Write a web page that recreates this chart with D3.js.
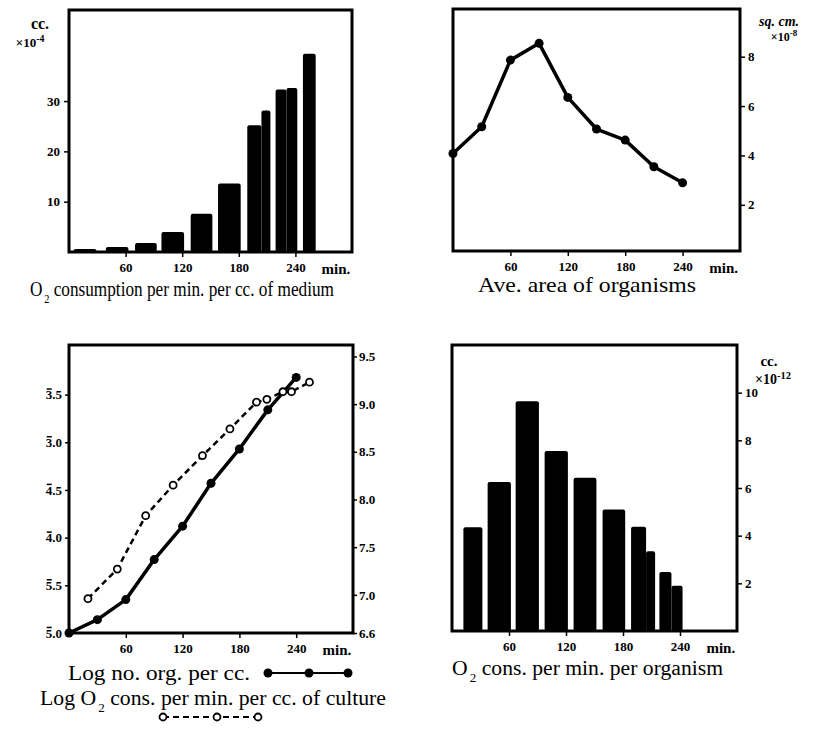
<!DOCTYPE html>
<html>
<head>
<meta charset="utf-8">
<script src="https://cdn.jsdelivr.net/npm/d3@7"></script>
<style>
  body { margin: 0; background: #fff; }
  svg { display: block; }
  text { font-family: "Liberation Serif", "DejaVu Serif", serif; fill: #000; }
  .tick text { font-size: 13px; font-weight: bold; }
  .tick line { stroke: #000; stroke-width: 1.5; }
</style>
</head>
<body>
<svg id="canvas" width="817" height="732"></svg>
<script>
// O2 consumption per min per cc of medium (x 10^-4 cc), bars by time interval
let mediumStart = [5, 39, 70, 98, 129, 158, 189, 204, 219, 230.5, 248];
let mediumEnd = [29, 63, 93, 122, 152, 182, 204, 213.5, 230.5, 242, 261.5];
let mediumValue = [0.6, 1.0, 1.8, 4.0, 7.6, 13.6, 25.2, 28.1, 32.3, 32.6, 39.4];

// Average area of organisms (x 10^-8 sq cm)
let areaTime = [0, 30, 60, 90, 120, 150, 180, 210, 240];
let areaValue = [4.08, 5.16, 7.86, 8.54, 6.35, 5.07, 4.62, 3.54, 2.89];

// Log number of organisms per cc (right axis)
let orgTime = [0, 30, 60, 90, 120, 150, 180, 210, 240];
let logOrg = [6.6, 6.74, 6.95, 7.37, 7.72, 8.17, 8.53, 8.94, 9.28];

// Log O2 consumption per min per cc of culture (left axis)
let cultureTime = [20, 51, 81, 110, 141, 170, 198, 209, 226, 235, 254];
let logCulture = [-4.64, -4.33, -3.77, -3.45, -3.14, -2.86, -2.58, -2.55, -2.47, -2.47, -2.37];

// O2 consumption per min per organism (x 10^-12 cc)
let perOrgStart = [12, 37.5, 67, 97.5, 128, 158.5, 188.5, 204.3, 218.3, 231];
let perOrgEnd = [32, 62, 91.5, 122, 152, 182.3, 204.3, 213.8, 231, 242.7];
let perOrgValue = [4.35, 6.25, 9.64, 7.55, 6.43, 5.1, 4.37, 3.35, 2.48, 1.9];

let timeTicks = [60, 120, 180, 240];
let mediumTicks = [10, 20, 30];
let areaTicks = [2, 4, 6, 8];
let cultureTicks = [-5, -4.5, -4, -3.5, -3, -2.5];
// bar-notation logs: the first digit carries an overbar (drawn below)
let cultureLabels = ["5.0", "5.5", "4.0", "4.5", "3.0", "3.5"];
let orgTicks = [6.6, 7.0, 7.5, 8.0, 8.5, 9.0, 9.5];
let perOrgTicks = [2, 4, 6, 8, 10];

let svg = d3.select("#canvas");


function frame(left, top, right, bottom) {
    let g = svg.append("g");
    let x = d3.scaleLinear().domain([0, 300]).range([left, right]);
    g.append("g")
        .attr("transform", `translate(0,${bottom})`)
        .call(d3.axisBottom(x).tickValues(timeTicks).tickSize(5).tickSizeOuter(0).tickPadding(6))
        .call(a => a.select(".domain").remove());
    g.append("text")
        .attr("x", x(283)).attr("y", bottom + 22)
        .attr("text-anchor", "middle")
        .style("font-size", "15px").style("font-weight", "bold")
        .text("min.");
    return { g: g, x: x, left: left, top: top, right: right, bottom: bottom };
}


function border(p) {
    p.g.append("rect")
        .attr("x", p.left).attr("y", p.top)
        .attr("width", p.right - p.left).attr("height", p.bottom - p.top)
        .attr("fill", "none").attr("stroke", "#000").attr("stroke-width", 3);
}


function bars(p, y, starts, ends, values) {
    p.g.append("g").selectAll("rect")
        .data(values)
        .enter()
        .append("rect")
        .attr("x", (d, i) => p.x(starts[i]))
        .attr("width", (d, i) => p.x(ends[i]) - p.x(starts[i]))
        .attr("y", d => y(d))
        .attr("height", d => p.bottom - y(d))
        .attr("rx", 2)
        .attr("fill", "#000");
}


function title(x, y, len, size, parts) {
    let t = svg.append("text")
        .attr("x", x).attr("y", y)
        .attr("textLength", len).attr("lengthAdjust", "spacingAndGlyphs")
        .style("font-size", size + "px");
    parts.forEach(s => {
        if (s === "2") {
            t.append("tspan").attr("dx", 2).attr("baseline-shift", "sub")
                .style("font-size", (size * 0.6) + "px").text("2");
        } else {
            t.append("tspan").text(s);
        }
    });
}


function unitLabel(x, y, size, base, exp, bold) {
    let t = svg.append("text")
        .attr("x", x).attr("y", y)
        .attr("text-anchor", "middle")
        .style("font-size", size + "px")
        .style("font-weight", bold ? "bold" : "normal");
    t.append("tspan").text(base);
    t.append("tspan").attr("baseline-shift", "super").style("font-size", (size * 0.75) + "px").text(exp);
}


// Panel 1: O2 consumption per cc of medium
let p1 = frame(69, 10, 352, 252);
let y1 = d3.scaleLinear().domain([0, 48.1]).range([252, 10]);
bars(p1, y1, mediumStart, mediumEnd, mediumValue);
p1.g.append("g")
    .attr("transform", "translate(69,0)")
    .call(d3.axisLeft(y1).tickValues(mediumTicks).tickSize(5).tickPadding(4))
    .call(a => a.select(".domain").remove());
border(p1);
svg.append("text").attr("x", 40).attr("y", 29).attr("text-anchor", "middle")
    .style("font-size", "16px").style("font-weight", "bold").text("cc.");
unitLabel(30, 47, 13, "\u00d710", "-4", true);
title(30, 296, 304, 20, ["O", "2", " consumption per min. per cc. of medium"]);

// Panel 2: average area of organisms
let p2 = frame(453, 9, 740, 251);
let y2 = d3.scaleLinear().domain([0.13, 9.93]).range([251, 9]);
let line2 = d3.line().x((d, i) => p2.x(areaTime[i])).y(d => y2(d));
p2.g.append("path")
    .datum(areaValue)
    .attr("d", line2)
    .attr("fill", "none").attr("stroke", "#000").attr("stroke-width", 3.5)
    .attr("stroke-linejoin", "round");
p2.g.append("g").selectAll("circle")
    .data(areaValue)
    .enter()
    .append("circle")
    .attr("cx", (d, i) => p2.x(areaTime[i]))
    .attr("cy", d => y2(d))
    .attr("r", 4.5)
    .attr("fill", "#000");
p2.g.append("g")
    .attr("transform", "translate(740,0)")
    .call(d3.axisRight(y2).tickValues(areaTicks).tickSize(5).tickPadding(3))
    .call(a => a.select(".domain").remove());
border(p2);
svg.append("text").attr("x", 779).attr("y", 26).attr("text-anchor", "middle")
    .style("font-size", "14px").style("font-style", "italic").style("font-weight", "bold").text("sq. cm.");
unitLabel(784, 41, 12, "\u00d710", "-8", true);
title(478, 292, 218, 21, ["Ave. area of organisms"]);

// Panel 3: log organisms and log O2 per cc of culture
let p3 = frame(69, 345, 353, 633);
let yLeft = d3.scaleLinear().domain([-5, -1.98]).range([633, 345]);
let yRight = d3.scaleLinear().domain([6.6, 9.62]).range([633, 345]);
let solid = d3.line().x((d, i) => p3.x(orgTime[i])).y(d => yRight(d));
let dashed = d3.line().x((d, i) => p3.x(cultureTime[i])).y(d => yLeft(d));
p3.g.append("path")
    .datum(logCulture)
    .attr("d", dashed)
    .attr("fill", "none").attr("stroke", "#000").attr("stroke-width", 2.5)
    .attr("stroke-dasharray", "6,4");
p3.g.append("path")
    .datum(logOrg)
    .attr("d", solid)
    .attr("fill", "none").attr("stroke", "#000").attr("stroke-width", 3.5)
    .attr("stroke-linejoin", "round");
p3.g.append("g").selectAll("circle")
    .data(logOrg)
    .enter()
    .append("circle")
    .attr("cx", (d, i) => p3.x(orgTime[i]))
    .attr("cy", d => yRight(d))
    .attr("r", 4.5)
    .attr("fill", "#000");
p3.g.append("g").selectAll("circle")
    .data(logCulture)
    .enter()
    .append("circle")
    .attr("cx", (d, i) => p3.x(cultureTime[i]))
    .attr("cy", d => yLeft(d))
    .attr("r", 3.5)
    .attr("fill", "#fff").attr("stroke", "#000").attr("stroke-width", 1.8);
let leftAxis = p3.g.append("g")
    .attr("transform", "translate(69,0)")
    .call(d3.axisLeft(yLeft).tickValues(cultureTicks).tickSize(4).tickPadding(3)
        .tickFormat((d, i) => cultureLabels[i]));
leftAxis.select(".domain").remove();
// overbar on the characteristic digit
leftAxis.selectAll(".tick").each(function () {
    let tick = d3.select(this);
    let txt = tick.select("text").node();
    let box = txt.getExtentOfChar(0);
    tick.append("line")
        .attr("x1", box.x + 1).attr("x2", box.x + box.width - 0.5)
        .attr("y1", box.y + 1.8).attr("y2", box.y + 1.8)
        .attr("stroke", "#000").attr("stroke-width", 1.3);
});
p3.g.append("g")
    .attr("transform", "translate(353,0)")
    .call(d3.axisRight(yRight).tickValues(orgTicks).tickSize(4).tickPadding(2)
        .tickFormat(d3.format(".1f")))
    .call(a => a.select(".domain").remove());
border(p3);

// legend for panel 3
title(68, 680, 182, 21, ["Log no. org. per cc."]);
let legendSolid = [268, 309, 348];
svg.append("line").attr("x1", legendSolid[0]).attr("x2", legendSolid[2]).attr("y1", 673).attr("y2", 673)
    .attr("stroke", "#000").attr("stroke-width", 2);
svg.append("g").selectAll("circle").data(legendSolid).enter().append("circle")
    .attr("cx", d => d).attr("cy", 673).attr("r", 4.5).attr("fill", "#000");
title(40, 705, 346, 21, ["Log O", "2", " cons. per min. per cc. of culture"]);
let legendDashed = [163, 217, 258];
svg.append("line").attr("x1", legendDashed[0]).attr("x2", legendDashed[2]).attr("y1", 717).attr("y2", 717)
    .attr("stroke", "#000").attr("stroke-width", 2).attr("stroke-dasharray", "6,4");
svg.append("g").selectAll("circle").data(legendDashed).enter().append("circle")
    .attr("cx", d => d).attr("cy", 717).attr("r", 3.5)
    .attr("fill", "#fff").attr("stroke", "#000").attr("stroke-width", 1.8);

// Panel 4: O2 consumption per organism
let p4 = frame(452, 345, 737, 631);
let y4 = d3.scaleLinear().domain([0, 12]).range([631, 345]);
bars(p4, y4, perOrgStart, perOrgEnd, perOrgValue);
p4.g.append("g")
    .attr("transform", "translate(737,0)")
    .call(d3.axisRight(y4).tickValues(perOrgTicks).tickSize(5).tickPadding(3))
    .call(a => a.select(".domain").remove());
border(p4);
svg.append("text").attr("x", 769).attr("y", 366).attr("text-anchor", "middle")
    .style("font-size", "15px").style("font-weight", "bold").text("cc.");
unitLabel(773, 384, 14, "\u00d710", "-12", true);
title(452, 675, 271, 20, ["O", "2", " cons. per min. per organism"]);
</script>
</body>
</html>
